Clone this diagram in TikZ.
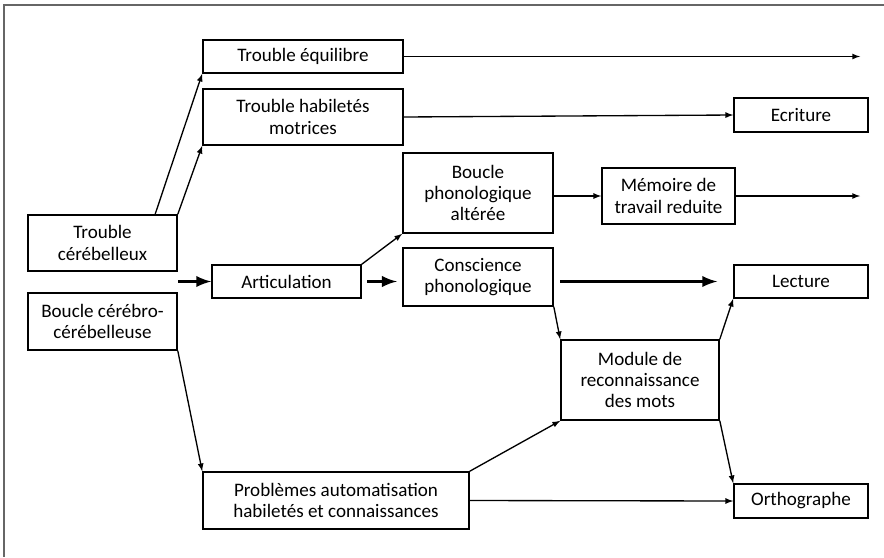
\documentclass[tikz,border=0pt]{standalone}
\usepackage{fontspec}
\setmainfont{Carlito}
\usepackage{tikz}
\usetikzlibrary{arrows,positioning}

\tikzset{
  box/.style={draw, line width=1.2pt, align=center, inner sep=1pt,
    font=\fontsize{14.3}{16}\selectfont},
  fat/.style={line width=2.8pt, ->, >=latex},
}

\begin{document}
\begin{tikzpicture}[x=0.75pt,y=-0.75pt,>=latex,line width=1pt]
      \useasboundingbox (0,0) rectangle (884,557);
      \draw[gray!80!black, line width=1.4pt] (884,5) -- (4,5) -- (4,557);

      \node[box, minimum width=150pt, minimum height=24.75pt] (equi) at (303,56.5) {Trouble équilibre};
      \node[box, minimum width=150pt, minimum height=42pt] (motr) at (303,117) {Trouble habiletés\\motrices};
      \node[box, minimum width=111.75pt, minimum height=42pt] (cereb) at (102.5,243) {Trouble\\cérébelleux};
      \node[box, minimum width=111.75pt, minimum height=42.75pt] (bcc) at (102.5,321.5) {Boucle cérébro-\\cérébelleuse};
      \node[box, minimum width=111.75pt, minimum height=24.75pt] (artic) at (286.5,281.5) {Articulation};
      \node[box, minimum width=112.5pt, minimum height=60pt] (bphon) at (478,193) {Boucle\\phonologique\\altérée};
      \node[box, minimum width=112.5pt, minimum height=43.5pt] (consc) at (478,277) {Conscience\\phonologique};
      \node[box, minimum width=99.75pt, minimum height=42pt] (memo) at (668.5,196) {Mémoire de\\travail reduite};
      \node[box, minimum width=100.5pt, minimum height=25.5pt] (ecri) at (801,115) {Ecriture};
      \node[box, minimum width=100.5pt, minimum height=24.75pt] (lect) at (801,281.5) {Lecture};
      \node[box, minimum width=118.5pt, minimum height=60pt] (module) at (640,380) {Module de\\reconnaissance\\des mots};
      \node[box, minimum width=199.5pt, minimum height=42.75pt] (prob) at (336,500.5) {Problèmes automatisation\\habiletés et connaissances};
      \node[box, minimum width=100.5pt, minimum height=25.5pt] (ortho) at (801,501) {Orthographe};

      \coordinate (in) at (178,281.5);
      \coordinate (out1) at (860,56.5);
      \coordinate (out2) at (860,196);

       \path[->]
          ([xshift=-17pt]cereb.north east) edge (equi.south west)
          (cereb.north east) edge (motr.south west)
          (bcc.south east) edge (prob.north west)
          (artic.north east) edge (bphon.south west)
          (equi.east) edge (out1)
          (motr.east) edge (ecri.west)
          (memo.west -| bphon.east) edge (memo.west)
          (memo.east) edge (out2)
          (consc.south east) edge (module.north west)
          (module.north east) edge (lect.south west)
          (module.south east) edge (ortho.north west)
          (prob.north east) edge (module.south west)
          (prob.east) edge (ortho.west)
      ;
       \draw[fat] (in) -- (artic.west);
       \draw[fat, shorten <=4pt, shorten >=4pt] (artic.east) -- (consc.west |- artic.east);
       \draw[fat, shorten <=5pt, shorten >=12pt] (lect.west -| consc.east) -- (lect.west);
  \end{tikzpicture}
\end{document}
